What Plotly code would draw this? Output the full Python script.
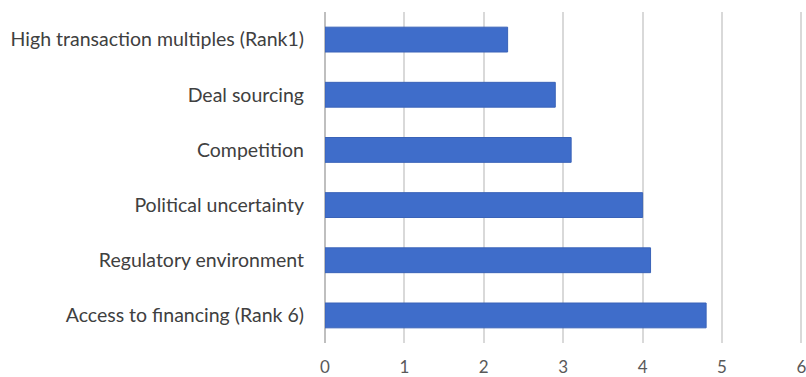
import plotly.graph_objects as go

categories = [
    "Access to financing (Rank 6)",
    "Regulatory environment",
    "Political uncertainty",
    "Competition",
    "Deal sourcing",
    "High transaction multiples (Rank1)",
]
values = [4.8, 4.1, 4.0, 3.1, 2.9, 2.3]
x_ticks = [0, 1, 2, 3, 4, 5, 6]

fig = go.Figure()
fig.add_trace(go.Bar(
    y=categories,
    x=values,
    orientation="h",
    marker=dict(color="#3F6DCA", line=dict(color="#3A63B8", width=1)),
    showlegend=False,
))

fig.update_layout(
    width=806,
    height=377,
    margin=dict(l=325, r=3, t=12, b=34, autoexpand=False),
    paper_bgcolor="white",
    plot_bgcolor="white",
    bargap=0.55,
    font=dict(family="Lato, Open Sans, sans-serif", size=19.5, color="#595959"),
    xaxis=dict(
        range=[0, 6.02],
        tickvals=x_ticks,
        showgrid=True,
        gridcolor="#D9D9D9",
        gridwidth=1.5,
        zeroline=True,
        zerolinecolor="#BFBFBF",
        zerolinewidth=1.5,
        ticks="",
        automargin=False,
        ticklabeloverflow="allow",
        tickfont=dict(size=17, color="#595959"),
        ticklabelstandoff=12,
    ),
    yaxis=dict(
        showgrid=False,
        ticks="",
        automargin=False,
        ticklabelstandoff=20,
        tickfont=dict(size=19.5, color="#404040"),
    ),
)

fig.write_html(
    "out.html",
    config={"displayModeBar": False},
    post_script="document.body.style.margin='0';document.body.style.overflow='hidden';",
)
